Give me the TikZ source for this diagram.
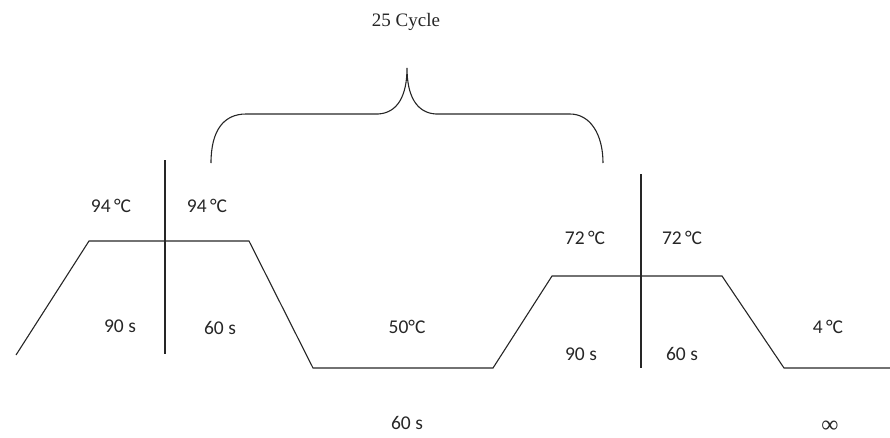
\documentclass[tikz,border=0pt]{standalone}
\usepackage{fontspec}
\setmainfont{Carlito}
\newfontfamily\serifface{Liberation Serif}
\begin{document}
\begin{tikzpicture}[x=1pt,y=-1pt,
  prof/.style={line width=1.1pt,draw=black!85},
  lbl/.style={inner sep=0pt,font=\fontsize{19.5}{22}\selectfont,text=black!85},
  serlbl/.style={inner sep=0pt,font=\serifface\fontsize{19}{21}\selectfont,text=black!85}]
\useasboundingbox (0,0) rectangle (890,437);
% profile coordinates
\coordinate (s0) at (16,355);
\coordinate (a1) at (89,241);
\coordinate (a2) at (249,241);
\coordinate (b1) at (313,368);
\coordinate (b2) at (493,368);
\coordinate (c1) at (552,276);
\coordinate (c2) at (722,276);
\coordinate (d1) at (784,368);
\coordinate (d2) at (890,368);
\draw[prof] (s0) -- (a1) -- (a2) -- (b1) -- (b2) -- (c1) -- (c2) -- (d1) -- (d2);
% vertical separators
\coordinate (v1t) at (165,160);
\coordinate (v1b) at (165,354);
\coordinate (v2t) at (641,174);
\coordinate (v2b) at (641,368);
\draw[prof] (v1t) -- (v1b);
\draw[prof] (v2t) -- (v2b);
% brace
\coordinate (bl) at (211,163);
\coordinate (br) at (603,163);
\coordinate (tip) at (407,68);
\draw[prof] (bl) .. controls (211,130) and (224,114) .. (246,114) -- (378,114)
  .. controls (398,113) and (407,95) .. (tip)
  .. controls (407,95) and (416,113) .. (436,114) -- (570,114)
  .. controls (590,114) and (603,134) .. (br);
% labels
\node[serlbl] (cyc) at (406,22) {25 Cycle};
\node[lbl] (t1) at (111,206) {94\,°C};
\node[lbl] (t2) at (207,206) {94\,°C};
\node[lbl] (s1) at (120,326) {90 s};
\node[lbl] (s2) at (220,328) {60 s};
\node[lbl] (t3) at (407,327) {50°C};
\node[lbl] (s3) at (407,423) {60 s};
\node[lbl] (t4) at (585,238) {72\,°C};
\node[lbl] (t5) at (682,238) {72\,°C};
\node[lbl] (s4) at (581,354) {90 s};
\node[lbl] (s5) at (682,354) {60 s};
\node[lbl] (t6) at (828,327) {4\,°C};
\node[serlbl,font=\serifface\fontsize{24}{26}\selectfont] (inf) at (830,427) {∞};
\end{tikzpicture}
\end{document}
